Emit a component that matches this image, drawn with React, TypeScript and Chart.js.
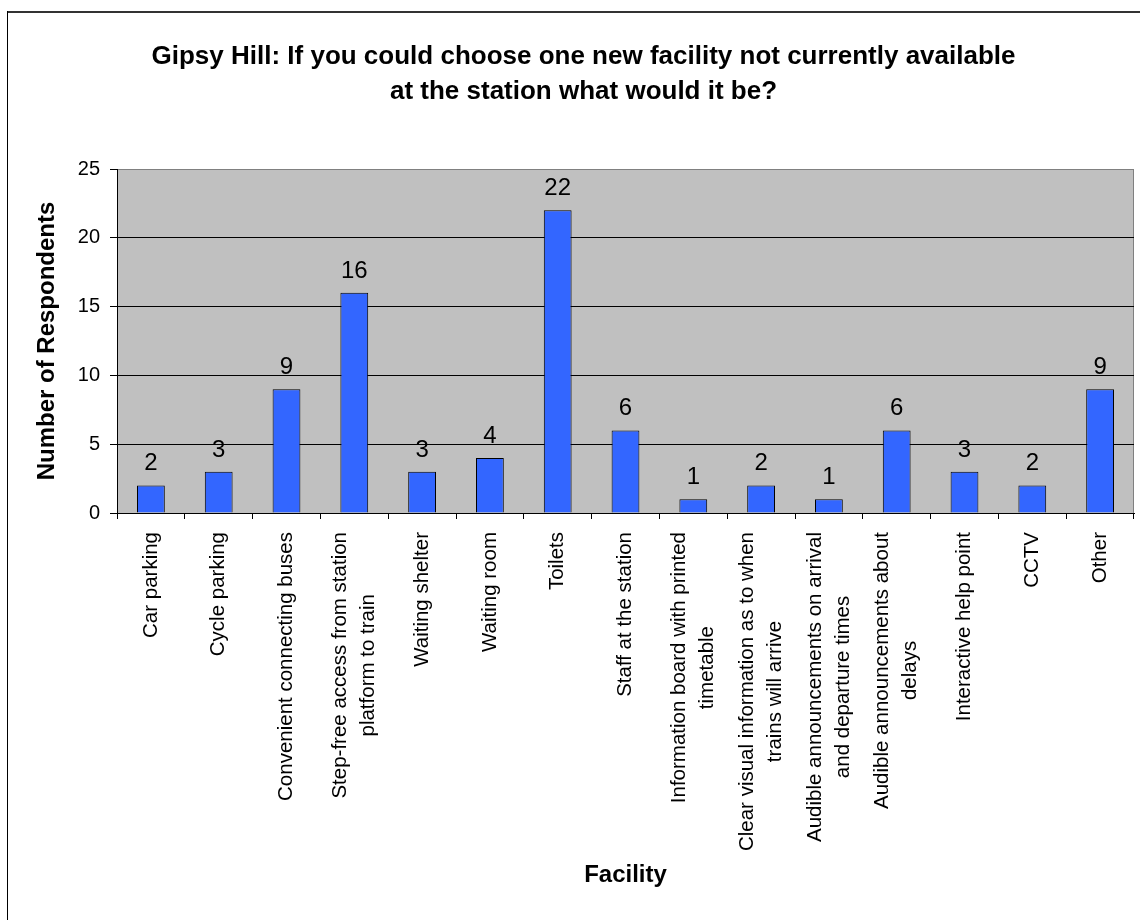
import React, { useEffect, useRef } from "react";
import { Chart, registerables } from "chart.js";

Chart.register(...registerables);

const titleLines = [
  "Gipsy Hill: If you could choose one new facility not currently available",
  "at the station what would it be?",
];

const categories: string[][] = [
  ["Car parking"],
  ["Cycle parking"],
  ["Convenient connecting buses"],
  ["Step-free access from station", "platform to train"],
  ["Waiting shelter"],
  ["Waiting room"],
  ["Toilets"],
  ["Staff at the station"],
  ["Information board with printed", "timetable"],
  ["Clear visual information as to when", "trains will arrive"],
  ["Audible announcements on arrival", "and departure times"],
  ["Audible announcements about", "delays"],
  ["Interactive help point"],
  ["CCTV"],
  ["Other"],
];

const respondents = [2, 3, 9, 16, 3, 4, 22, 6, 1, 2, 1, 6, 3, 2, 9];

const yMin = 0;
const yMax = 25;
const yStep = 5;

const yAxisTitle = "Number of Respondents";
const xAxisTitle = "Facility";

const FONT = "'Liberation Sans', Arial, sans-serif";

export default function App() {
  const ref = useRef<HTMLCanvasElement>(null);

  useEffect(() => {
    const canvas = ref.current;
    if (!canvas) return;

    const background = {
      id: "background",
      beforeDraw(chart: any) {
        const { ctx, chartArea: a } = chart;
        ctx.save();
        ctx.fillStyle = "#ffffff";
        ctx.fillRect(0, 0, chart.width, chart.height);
        // outer chart frame
        ctx.fillStyle = "#333333";
        ctx.fillRect(7, 11, chart.width - 7, 2);
        ctx.fillStyle = "#000000";
        ctx.fillRect(7, 11, 1, chart.height - 11);
        // plot area
        ctx.fillStyle = "#C0C0C0";
        ctx.fillRect(a.left, a.top, a.right - a.left, a.bottom - a.top);
        ctx.strokeStyle = "#808080";
        ctx.lineWidth = 1;
        ctx.beginPath();
        ctx.moveTo(a.left, a.top + 0.5);
        ctx.lineTo(a.right - 0.5, a.top + 0.5);
        ctx.lineTo(a.right - 0.5, a.bottom);
        ctx.stroke();
        ctx.restore();
      },
    };

    const valueLabels = {
      id: "valueLabels",
      afterDatasetsDraw(chart: any) {
        const { ctx } = chart;
        const meta = chart.getDatasetMeta(0);
        const data = chart.data.datasets[0].data as number[];
        ctx.save();
        ctx.fillStyle = "#000";
        ctx.font = `24px ${FONT}`;
        ctx.textAlign = "center";
        ctx.textBaseline = "alphabetic";
        meta.data.forEach((bar: any, i: number) => {
          ctx.fillText(String(data[i]), bar.x, bar.y - 15);
        });
        ctx.restore();
      },
    };

    const categoryLabels = {
      id: "categoryLabels",
      afterDraw(chart: any) {
        const { ctx } = chart;
        const xs = chart.scales.x;
        const anchorY = xs.top + 19;
        const pitch = 28;
        ctx.save();
        ctx.fillStyle = "#000";
        ctx.font = `20.5px ${FONT}`;
        ctx.textAlign = "center";
        ctx.textBaseline = "middle";
        (chart.data.labels as string[][]).forEach((lines, i) => {
          const x = xs.getPixelForValue(i);
          const maxW = Math.max(...lines.map((l) => ctx.measureText(l).width));
          ctx.save();
          ctx.translate(x, anchorY);
          ctx.rotate(-Math.PI / 2);
          lines.forEach((line, k) => {
            const off = (k - (lines.length - 1) / 2) * pitch;
            ctx.fillText(line, -maxW / 2, off);
          });
          ctx.restore();
        });
        ctx.restore();
      },
    };

    const chart = new Chart(canvas, {
      type: "bar",
      data: {
        labels: categories as any,
        datasets: [
          {
            data: respondents,
            backgroundColor: "#3366FF",
            borderColor: "#000000",
            borderWidth: 1,
            barPercentage: 0.41,
            categoryPercentage: 1,
          },
        ],
      },
      options: {
        animation: false,
        responsive: false,
        devicePixelRatio: 1,
        layout: { padding: { left: 33, right: 6, top: 0, bottom: 0 } },
        plugins: {
          legend: { display: false },
          tooltip: { enabled: false },
          title: {
            display: true,
            text: titleLines,
            color: "#000",
            font: { family: FONT, size: 26, weight: "bold", lineHeight: 35 / 26 },
            padding: { top: 39.5, bottom: 59.5 },
          },
        },
        scales: {
          x: {
            offset: true,
            grid: {
              offset: true,
              drawOnChartArea: false,
              drawTicks: true,
              tickLength: 6,
              color: "#000",
              tickColor: "#000",
            },
            border: { display: true, color: "#000", width: 1 },
            ticks: { display: false },
            title: {
              display: true,
              text: xAxisTitle,
              color: "#000",
              font: { family: FONT, size: 24, weight: "bold", lineHeight: 1.2 },
              padding: { top: 0, bottom: 30 },
            },
            afterFit(scale: any) {
              scale.height = 407;
            },
          },
          y: {
            min: yMin,
            max: yMax,
            ticks: {
              stepSize: yStep,
              color: "#000",
              font: { family: FONT, size: 20 },
              padding: 10,
            },
            grid: {
              color: (c: any) => (c.tick && c.tick.value === yMax ? "#808080" : "#000"),
              tickColor: "#000",
              tickLength: 7,
              lineWidth: 1,
            },
            border: { display: true, color: "#000", width: 1 },
            title: {
              display: true,
              text: yAxisTitle,
              color: "#000",
              font: { family: FONT, size: 24, weight: "bold", lineHeight: 1.2 },
              padding: { top: 0, bottom: 0 },
            },
            afterFit(scale: any) {
              scale.width = 84;
            },
          },
        },
      },
      plugins: [background, valueLabels, categoryLabels],
    });

    return () => chart.destroy();
  }, []);

  return (
    <div style={{ position: "absolute", left: 0, top: 0, width: 1140, height: 920, background: "#fff" }}>
      <canvas ref={ref} width={1140} height={920} style={{ display: "block", width: 1140, height: 920 }} />
    </div>
  );
}
